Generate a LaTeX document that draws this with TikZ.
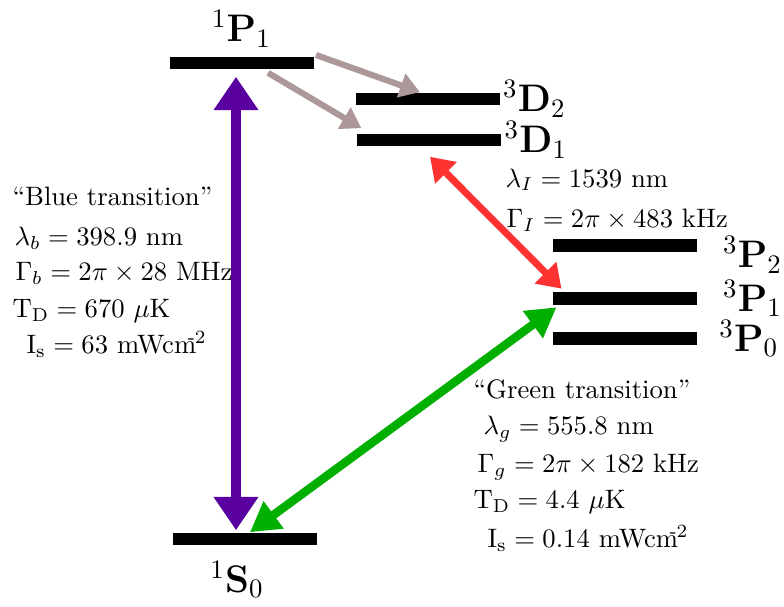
\documentclass[tikz,border=0pt]{standalone}
\usepackage{amsmath}
\usetikzlibrary{arrows.meta,positioning,calc}

\definecolor{bluetrans}{RGB}{90,0,160}
\definecolor{greentrans}{RGB}{0,175,0}
\definecolor{redtrans}{RGB}{255,50,50}
\definecolor{decay}{RGB}{172,152,152}

\begin{document}
\begin{tikzpicture}[
    x=0.375pt,
    y=-0.375pt,
    level/.style={
        fill=black,
        inner sep=0pt,
        minimum width=54pt,
        minimum height=4.7pt
    },
    term/.style={
        font=\Large,
        inner sep=0pt
    },
    info/.style={
        anchor=base west,
        inner sep=0pt
    },
    bluearrow/.style={
        {Triangle[length=12.5pt,width=16pt]}-{Triangle[length=12.5pt,width=16pt]},
        line width=4pt,
        bluetrans
    },
    greenarrow/.style={
        {Triangle[length=11pt,width=12pt]}-{Triangle[length=11pt,width=12pt]},
        line width=3.2pt,
        greentrans
    },
    redarrow/.style={
        {Triangle[length=8.5pt,width=11pt]}-{Triangle[length=8.5pt,width=11pt]},
        line width=2.6pt,
        redtrans
    },
    decayarrow/.style={
        -{Triangle[length=7.5pt,width=9pt]},
        line width=2.3pt,
        decay
    }
]
\useasboundingbox (0,0) rectangle (784,606);

% Levels
\node [level] (p1) at (241.5,63) {};
\node [level] (d2) at (427.5,99) {};
\node [level] (d1) at (429,140) {};
\node [level] (tp2) at (625,245.5) {};
\node [level] (tp1) at (625,298.5) {};
\node [level] (tp0) at (625,338.5) {};
\node [level] (s0) at (245,539) {};

% Term symbols
\node [term, above=3pt of p1] (p1lbl) {$^1\mathbf{P}_1$};
\node [term, below=5.5pt of s0, xshift=-3pt] (s0lbl) {$^1\mathbf{S}_0$};
\node [term, right=1pt of d2] (d2lbl) {$^3\mathbf{D}_2$};
\node [term, right=1pt of d1] (d1lbl) {$^3\mathbf{D}_1$};
\node [term, right=9.4pt of tp2, yshift=-3.5pt] (tp2lbl) {$^3\mathbf{P}_2$};
\node [term, right=9.4pt of tp1] (tp1lbl) {$^3\mathbf{P}_1$};
\node [term, right=8pt of tp0] (tp0lbl) {$^3\mathbf{P}_0$};

% Transitions
\draw [bluearrow] ($(p1.south)+(-5.5,7)$) -- ($(s0.north)+(-9,-2)$);
\draw [greenarrow] ($(tp1.south west)+(4,2)$) -- ($(s0.north)+(5,0)$);
\draw [redarrow] ($(d1.south)+(1,10)$) -- ($(tp1.north west)+(9,-3)$);
\draw [decayarrow] ($(p1.east)+(2,-8)$) -- ($(d2.north)+(-7.5,0)$);
\draw [decayarrow] ($(p1.south)+(26.5,3)$) -- ($(d1.north west)+(5,-5)$);

% Blue transition data
\node [info] (b1) at (12,205) {``Blue transition''};
\node [info] (b2) at (14,245) {$\lambda_b = 398.9$ nm};
\node [info] (b3) at (15,280) {$\Gamma_b = 2\pi \times 28$ MHz};
\node [info] (b4) at (12,317) {$\mathrm{T_D} = 670$ $\mu$K};
\node [info] (b5) at (26,353) {$\mathrm{I_s} = 63$ mWcm$^{\mkern-7mu\text{-}2}$};

% Infrared transition data
\node [info] (r1) at (505,187) {$\lambda_I = 1539$ nm};
\node [info] (r2) at (506,227) {$\Gamma_I = 2\pi \times 483$ kHz};

% Green transition data
\node [info] (g1) at (473,398) {``Green transition''};
\node [info] (g2) at (483,434) {$\lambda_g = 555.8$ nm};
\node [info] (g3) at (477,472) {$\Gamma_g = 2\pi \times 182$ kHz};
\node [info] (g4) at (473,508) {$\mathrm{T_D} = 4.4$ $\mu$K};
\node [info] (g5) at (487,547) {$\mathrm{I_s} = 0.14$ mWcm$^{\mkern-7mu\text{-}2}$};

\end{tikzpicture}
\end{document}
